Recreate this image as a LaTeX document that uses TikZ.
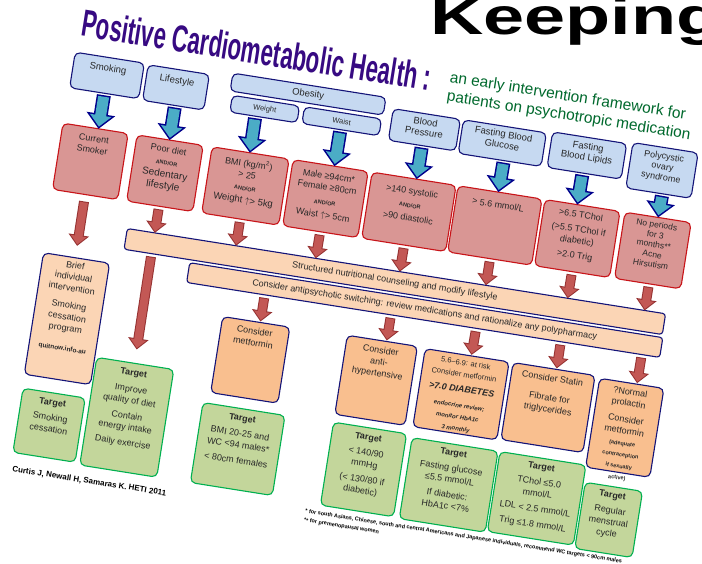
\documentclass[tikz,border=0pt]{standalone}
\usepackage{fontspec}
\setmainfont{Liberation Sans}
\usepackage{graphicx}
\usetikzlibrary{calc,arrows.meta}
\definecolor{navy}{RGB}{20,20,120}
\definecolor{lblue}{RGB}{198,217,241}
\definecolor{bred}{RGB}{200,20,25}
\definecolor{pinkf}{RGB}{217,150,148}
\definecolor{peachf}{RGB}{251,213,181}
\definecolor{orangef}{RGB}{249,191,143}
\definecolor{greenf}{RGB}{195,214,155}
\definecolor{greenb}{RGB}{0,176,80}
\definecolor{arrteal}{RGB}{75,172,198}
\definecolor{arrnavy}{RGB}{0,0,140}
\definecolor{redarr}{RGB}{195,88,85}
\definecolor{redarrb}{RGB}{150,50,50}
\definecolor{txtc}{RGB}{40,40,40}
\definecolor{titlec}{RGB}{55,10,130}
\definecolor{subc}{RGB}{0,105,45}
\newcommand\myandor{{\fontsize{5.5}{7}\selectfont\bfseries AND/OR}}
\tikzset{
  bx/.style={rounded corners=5pt, line width=1.1pt, inner sep=0pt, outer sep=0pt},
  bluebx/.style={bx, draw=navy, fill=lblue},
  redbx/.style={bx, draw=bred, fill=pinkf},
  peachbx/.style={bx, draw=navy, fill=peachf},
  orbx/.style={bx, draw=navy, fill=orangef},
  grbx/.style={bx, draw=greenb, fill=greenf},
  barbx/.style={bx, rounded corners=3pt, draw=navy, fill=peachf, text=txtc, font=\fontsize{9}{11}\selectfont},
  txt/.style={anchor=north, align=center, inner sep=0pt, text=txtc, font=\fontsize{9}{11.5}\selectfont},
  blueO/.style={draw=arrnavy, line width=14pt, -{Triangle[width=28pt,length=15pt]}, shorten <=2pt},
  blueI/.style={draw=arrteal, line width=11pt, -{Triangle[width=21pt,length=11.3pt]}, shorten <=3.5pt, shorten >=2.2pt},
  redO/.style={draw=redarrb, line width=10pt, -{Triangle[width=20pt,length=11pt]}},
  redI/.style={draw=redarr, line width=8pt, -{Triangle[width=15.5pt,length=8.5pt]}},
}
\begin{document}
\begin{tikzpicture}[x=1pt,y=-1pt]
\useasboundingbox (0,0) rectangle (702,563);
\clip (0,0) rectangle (702,563);
\fill[white] (0,0) rectangle (702,563);
\node[anchor=base west, inner sep=0pt] (keep) at (430,34) {\fontsize{52}{52}\selectfont\bfseries\scalebox{1.42}[1]{Keeping}};
\begin{scope}[rotate around={-9:(350,280)}, transform shape]
% title
\node[anchor=base west, inner sep=0pt, text=titlec] (title) at (45,81) {\fontsize{37.7}{40}\selectfont\bfseries\scalebox{0.59}[1]{Positive Cardiometabolic Health :}};
\node[anchor=base west, inner sep=0pt, text=subc, font=\fontsize{15.5}{18}\selectfont] (sub1) at (417,69) {an early intervention framework for};
\node[anchor=base west, inner sep=0pt, text=subc, font=\fontsize{15.5}{18}\selectfont] (sub2) at (417,88) {patients on psychotropic medication};
% top row
\node[bluebx, minimum width=70pt, minimum height=36pt] (smk) at (78,116) {};
\node[txt, font=\fontsize{9.5}{11}\selectfont] (smkT) at (78,105) {Smoking};
\node[bluebx, minimum width=62pt, minimum height=36pt] (life) at (148,117) {};
\node[txt, font=\fontsize{9.5}{11}\selectfont] (lifeT) at (148,106) {Lifestyle};
\node[bluebx, minimum width=155pt, minimum height=18pt, text=txtc, font=\fontsize{9.5}{11}\selectfont] (obes) at (279.5,103) {Obesity};
\node[bluebx, minimum width=68pt, minimum height=17pt, text=txtc, font=\fontsize{7.5}{9}\selectfont] (wght) at (239,124.5) {Weight};
\node[bluebx, minimum width=78pt, minimum height=17pt, text=txtc, font=\fontsize{7.5}{9}\selectfont] (wst) at (317,124.5) {Waist};
\node[bluebx, minimum width=68pt, minimum height=32pt] (bp) at (400,120) {};
\node[txt, font=\fontsize{9.5}{11}\selectfont] (bpT) at (400,108) {Blood\\Pressure};
\node[bluebx, minimum width=84pt, minimum height=34pt] (fbg) at (479,121) {};
\node[txt, font=\fontsize{9.5}{11}\selectfont] (fbgT) at (479,108) {Fasting Blood\\Glucose};
\node[bluebx, minimum width=75pt, minimum height=36pt] (fbl) at (564.5,120) {};
\node[txt, font=\fontsize{9.5}{11}\selectfont] (fblT) at (564.5,107) {Fasting\\Blood Lipids};
\node[bluebx, minimum width=66pt, minimum height=46pt] (pcos) at (641,123) {};
\node[txt, font=\fontsize{9}{10.5}\selectfont] (pcosT) at (641,105) {Polycystic\\ovary\\syndrome};
% red row
\node[redbx, minimum width=66pt, minimum height=67pt] (csm) at (75,203.5) {};
\node[txt] (csmT) at (75,177) {Current\\Smoker};
\node[redbx, minimum width=67pt, minimum height=67pt] (poor) at (150.5,203.5) {};
\node[txt] (poorT) at (150.5,176) {Poor diet\\[1pt]\myandor\\[1pt]{\fontsize{10}{12}\selectfont Sedentary}\\{\fontsize{10}{12}\selectfont lifestyle}};
\node[redbx, minimum width=78pt, minimum height=67pt] (bmi) at (232,203.5) {};
\node[txt] (bmiT) at (232,176) {BMI (kg/m\textsuperscript{2})\\> 25\\[1pt]\myandor\\[1pt]{\fontsize{9.5}{11}\selectfont Weight $\uparrow$> 5kg}};
\node[redbx, minimum width=76pt, minimum height=67pt] (mfw) at (313,203.5) {};
\node[txt] (mfwT) at (313,177) {Male ≥94cm*\\Female ≥80cm\\[3pt]\myandor\\[2pt]Waist $\uparrow$> 5cm};
\node[redbx, minimum width=85pt, minimum height=67pt] (bpr) at (397.5,203.5) {};
\node[txt] (bprT) at (397.5,179) {>140 systolic\\[2pt]\myandor\\[2pt]>90 diastolic};
\node[redbx, minimum width=85pt, minimum height=67pt] (fbgr) at (484.5,203.5) {};
\node[txt] (fbgrT) at (484.5,179) {> 5.6 mmol/L};
\node[redbx, minimum width=76pt, minimum height=67pt] (lipr) at (568,203.5) {};
\node[txt] (liprT) at (568,176) {>6.5 TChol\\[3pt](>5.5 TChol if\\diabetic)\\[3pt]>2.0 Trig};
\node[redbx, minimum width=67pt, minimum height=67pt] (pcosr) at (644.5,203.5) {};
\node[txt, font=\fontsize{8.5}{10}\selectfont] (pcosrT) at (644.5,174) {No periods\\for 3\\months**\\Acne\\Hirsutism};
% bars
\node[barbx, minimum width=545pt, minimum height=21pt] (bar1) at (394.5,274.5) {Structured nutritional counseling and modify lifestyle};
\node[barbx, minimum width=479pt, minimum height=20pt] (bar2) at (428.5,298) {Consider antipsychotic switching: review medications and rationalize any polypharmacy};
% lower boxes
\node[peachbx, minimum width=67pt, minimum height=123pt] (brief) at (76.5,362.5) {};
\node[txt] (briefT) at (76.5,305) {Brief\\individual\\intervention\\[6pt]Smoking\\cessation\\program\\[8pt]{\fontsize{6.5}{8}\selectfont\bfseries quitnow.info.au}};
\node[grbx, minimum width=63pt, minimum height=65pt] (tsmk) at (75.5,470.5) {};
\node[txt] (tsmkT) at (75.5,444) {\textbf{Target}\\[4pt]Smoking\\cessation};
\node[grbx, minimum width=78pt, minimum height=109pt] (tlife) at (151,450.5) {};
\node[txt] (tlifeT) at (151,402) {\textbf{Target}\\[5pt]Improve\\quality of diet\\[4pt]Contain\\energy intake\\[4pt]Daily exercise};
\node[orbx, minimum width=68pt, minimum height=77pt] (met) at (264,374.5) {};
\node[txt] (metT) at (264,342) {Consider\\metformin};
\node[grbx, minimum width=83pt, minimum height=81pt] (tbmi) at (265.5,464.5) {};
\node[txt] (tbmiT) at (265.5,430) {\textbf{Target}\\[4pt]BMI 20-25 and\\WC <94 males*\\[4pt]< 80cm females};
\node[orbx, minimum width=71pt, minimum height=80pt] (ahy) at (391.5,375) {};
\node[txt] (ahyT) at (391.5,341) {Consider\\anti-\\hypertensive};
\node[grbx, minimum width=74pt, minimum height=84pt] (tbp) at (393,465) {};
\node[txt] (tbpT) at (393,429) {\textbf{Target}\\[4pt]< 140/90\\mmHg\\[4pt](< 130/80 if\\diabetic)};
\node[orbx, minimum width=85pt, minimum height=79pt] (glu) at (477.5,375.5) {};
\node[txt] (gluT) at (477.5,341) {{\fontsize{7.5}{9}\selectfont 5.6–6.9: at risk}\\{\fontsize{7.5}{9}\selectfont Consider metformin}\\[4pt]{\bfseries\itshape >7.0 DIABETES}\\[4pt]{\fontsize{6}{7.5}\selectfont\bfseries\itshape endocrine review;}\\{\fontsize{6}{7.5}\selectfont\bfseries\itshape monitor HbA1c}\\{\fontsize{6}{7.5}\selectfont\bfseries\itshape 3 monthly}};
\node[grbx, minimum width=87pt, minimum height=82pt] (tglu) at (479.5,467) {};
\node[txt] (tgluT) at (479.5,431) {\textbf{Target}\\[4pt]Fasting glucose\\≤5.5 mmol/L\\[4pt]If diabetic:\\HbA1c <7\%};
\node[orbx, minimum width=83pt, minimum height=78pt] (sta) at (565.5,375) {};
\node[txt] (staT) at (565.5,342) {Consider Statin\\[8pt]Fibrate for\\triglycerides};
\node[grbx, minimum width=87pt, minimum height=81pt] (tcho) at (568.5,466.5) {};
\node[txt] (tchoT) at (568.5,431) {\textbf{Target}\\[4pt]TChol ≤5.0\\mmol/L\\[4pt]LDL < 2.5 mmol/L\\[4pt]Trig ≤1.8 mmol/L};
\node[orbx, minimum width=65pt, minimum height=90pt] (prl) at (644.5,383) {};
\node[txt] (prlT) at (644.5,343) {?Normal\\prolactin\\[5pt]Consider\\metformin\\{\fontsize{5.5}{7}\selectfont\bfseries (adequate}\\{\fontsize{5.5}{7}\selectfont\bfseries contraception}\\{\fontsize{5.5}{7}\selectfont\bfseries if sexually}\\{\fontsize{5.5}{7}\selectfont\bfseries active)}};
\node[grbx, minimum width=58pt, minimum height=67pt] (tmen) at (643,476.5) {};
\node[txt] (tmenT) at (643,448) {\textbf{Target}\\[4pt]Regular\\menstrual\\cycle};
% footnotes
\node[anchor=base west, inner sep=0pt, text=black, font=\fontsize{8}{9}\selectfont\bfseries] (cite) at (46,522) {Curtis J, Newall H, Samaras K. HETI 2011};
\node[anchor=base west, inner sep=0pt, text=black, font=\fontsize{5.5}{6.5}\selectfont\bfseries] (fn1) at (342,517) {* for south Asians, Chinese, south and central Americans and Japanese individuals, recommend WC targets < 90cm males};
\node[anchor=base west, inner sep=0pt, text=black, font=\fontsize{5.5}{6.5}\selectfont\bfseries] (fn2) at (342,526) {** for premenopausal women};
% blue arrows
\foreach \a/\fa/\b/\fb in {smk/0.5/csm/0.545, life/0.53/poor/0.49, wght/0.38/bmi/0.49, wst/0.5/mfw/0.55, bp/0.5/bpr/0.53, fbg/0.55/fbgr/0.48, fbl/0.48/lipr/0.43, pcos/0.56/pcosr/0.5}{
  \draw[blueO] ($(\a.south west)!\fa!(\a.south east)$) -- ($(\b.north west)!\fb!(\b.north east)$);
  \draw[blueI] ($(\a.south west)!\fa!(\a.south east)$) -- ($(\b.north west)!\fb!(\b.north east)$);
}
% red arrows to bar1
\foreach \a/\fa/\fb in {poor/0.49/0.051, bmi/0.5/0.202, mfw/0.5/0.350, bpr/0.506/0.506, fbgr/0.506/0.666, lipr/0.5/0.818, pcosr/0.52/0.961}{
  \draw[redO, shorten <=3pt] ($(\a.south west)!\fa!(\a.south east)$) -- ($(bar1.north west)!\fb!(bar1.north east)$);
  \draw[redI, shorten <=4pt, shorten >=1.5pt] ($(\a.south west)!\fa!(\a.south east)$) -- ($(bar1.north west)!\fb!(bar1.north east)$);
}
% smoker to brief
\draw[redO, shorten <=7pt, shorten >=12pt] ($(csm.south west)!0.5!(csm.south east)$) -- ($(brief.north west)!0.48!(brief.north east)$);
\draw[redI, shorten <=8pt, shorten >=13.5pt] ($(csm.south west)!0.5!(csm.south east)$) -- ($(brief.north west)!0.48!(brief.north east)$);
% bar1 to lifestyle target
\draw[redO, shorten <=3pt, shorten >=14pt] ($(bar1.south west)!0.051!(bar1.south east)$) -- ($(tlife.north west)!0.49!(tlife.north east)$);
\draw[redI, shorten <=4pt, shorten >=15.5pt] ($(bar1.south west)!0.051!(bar1.south east)$) -- ($(tlife.north west)!0.49!(tlife.north east)$);
% bar2 to orange boxes
\foreach \b/\fa/\fb in {met/0.165/0.56, ahy/0.432/0.56, glu/0.612/0.55, sta/0.791/0.53, prl/0.962/0.58}{
  \draw[redO, shorten <=3pt, shorten >=1pt] ($(bar2.south west)!\fa!(bar2.south east)$) -- ($(\b.north west)!\fb!(\b.north east)$);
  \draw[redI, shorten <=4pt, shorten >=2.5pt] ($(bar2.south west)!\fa!(bar2.south east)$) -- ($(\b.north west)!\fb!(\b.north east)$);
}
\end{scope}
\end{tikzpicture}
\end{document}
